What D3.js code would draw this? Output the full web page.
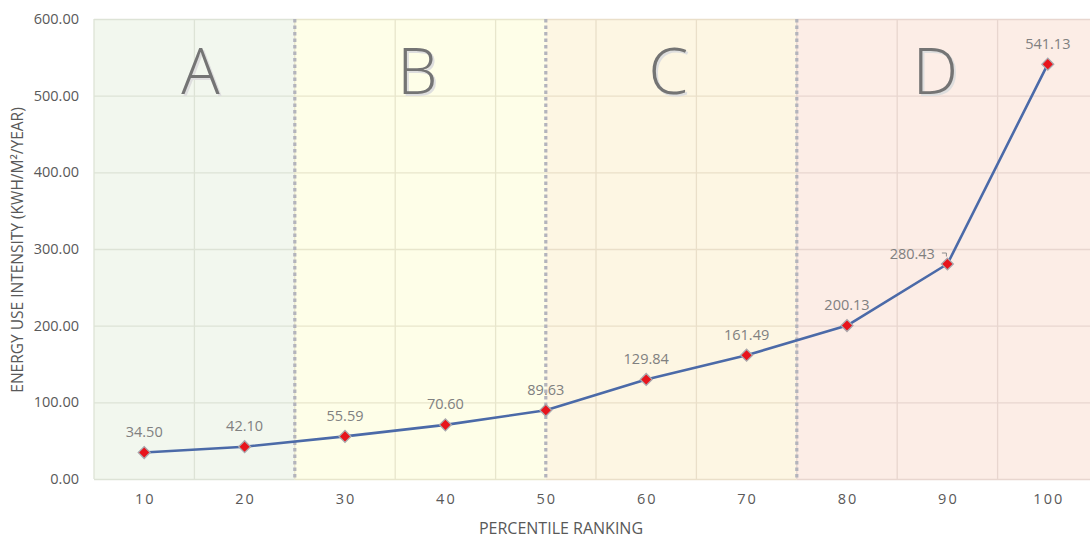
<!DOCTYPE html>
<html>
<head>
<meta charset="utf-8">
<script src="https://cdn.jsdelivr.net/npm/d3@7"></script>
<style>
  html, body { margin: 0; padding: 0; background: #fff; }
  svg { display: block; font-family: "Open Sans", "Noto Sans", sans-serif; }
</style>
</head>
<body>
<svg id="chart" width="1090" height="539"></svg>
<script>
// Percentile ranking (x) and energy use intensity in kWh/m²/year (y)
const percentiles = [10, 20, 30, 40, 50, 60, 70, 80, 90, 100];
const eui = [34.50, 42.10, 55.59, 70.60, 89.63, 129.84, 161.49, 200.13, 280.43, 541.13];
const yTicks = [0, 100, 200, 300, 400, 500, 600];

// Rating bands A–D, bounded on the percentile axis
const zoneLetters = ["A", "B", "C", "D"];
const zoneBounds = [5, 25, 50, 75, 105];

// ---- layout / style (not data) ----
const W = 1090, H = 539;
const plot = { left: 94, right: 1098, top: 19, bottom: 479 };
const zoneFills = ["#f2f7ee", "#fefee8", "#fdf6e3", "#fcede6"];
const zoneGrid = ["#dde3d6", "#e8e6cc", "#eadfc9", "#e8d6cf"];
const zoneLetterAt = [15.6, 37.2, 62.2, 88.8];

const svg = d3.select("#chart");

const x = d3.scaleBand().domain(percentiles).range([plot.left, plot.right]).padding(0);
const xLin = d3.scaleLinear().domain([zoneBounds[0], zoneBounds[zoneBounds.length - 1]])
  .range([plot.left, plot.right]);
const y = d3.scaleLinear().domain([0, 600]).range([plot.bottom, plot.top]);

// Band backgrounds
const zones = zoneLetters.map((l, i) => ({ letter: l, from: zoneBounds[i], to: zoneBounds[i + 1], i }));
svg.append("g").selectAll("rect").data(zones).join("rect")
  .attr("x", d => xLin(d.from))
  .attr("y", plot.top)
  .attr("width", d => xLin(d.to) - xLin(d.from))
  .attr("height", plot.bottom - plot.top)
  .attr("fill", d => zoneFills[d.i]);

// Grid lines, tinted to each band
const gridG = svg.append("g");
zones.forEach(z => {
  const x0 = xLin(z.from), x1 = Math.min(xLin(z.to), W);
  gridG.append("g").selectAll("line").data(yTicks).join("line")
    .attr("x1", x0).attr("x2", x1)
    .attr("y1", d => y(d) + 0.5).attr("y2", d => y(d) + 0.5)
    .attr("stroke", zoneGrid[z.i]).attr("stroke-width", 1.3);
});
const edges = percentiles.map(p => x(p)).concat([x(percentiles[percentiles.length - 1]) + x.bandwidth()]);
gridG.append("g").selectAll("line").data(edges).join("line")
  .attr("x1", d => d).attr("x2", d => d)
  .attr("y1", plot.top).attr("y2", plot.bottom)
  .attr("stroke", d => {
    const p = xLin.invert(d);
    const zi = Math.max(0, d3.bisectRight(zoneBounds, p) - 1);
    return zoneGrid[Math.min(zi, 3)];
  })
  .attr("stroke-width", 1.3);

// Dotted dividers between bands
svg.append("g").selectAll("line").data(zoneBounds.slice(1, -1)).join("line")
  .attr("x1", d => xLin(d)).attr("x2", d => xLin(d))
  .attr("y1", plot.top).attr("y2", plot.bottom)
  .attr("stroke", "#b3b4bc").attr("stroke-width", 3.2)
  .attr("stroke-dasharray", "3.5,3");

// Band letters with a soft shadow
const letterG = svg.append("g")
  .attr("font-family", "'Open Sans', sans-serif")
  .attr("font-weight", 300)
  .attr("font-size", 64).attr("text-anchor", "middle");
letterG.selectAll("text.sh").data(zones).join("text").attr("class", "sh")
  .attr("x", d => xLin(zoneLetterAt[d.i]) + 2).attr("y", 94 + 2)
  .attr("fill", "#dedede").text(d => d.letter);
letterG.selectAll("text.fg").data(zones).join("text").attr("class", "fg")
  .attr("x", d => xLin(zoneLetterAt[d.i])).attr("y", 94)
  .attr("fill", "#747474").text(d => d.letter);

// Y axis
const yAxis = svg.append("g")
  .attr("transform", `translate(${plot.left},0)`)
  .call(d3.axisLeft(y).tickValues(yTicks).tickFormat(d3.format(".2f")).tickSize(0).tickPadding(15));
yAxis.select(".domain").remove();
yAxis.selectAll("text")
  .attr("font-family", "'Open Sans', sans-serif")
  .attr("font-size", 14.5).attr("fill", "#595959");

// X axis
const xAxis = svg.append("g")
  .attr("transform", `translate(0,${plot.bottom})`)
  .call(d3.axisBottom(x).tickSize(0).tickPadding(15));
xAxis.select(".domain").remove();
xAxis.selectAll("text")
  .attr("font-family", "'Open Sans', sans-serif")
  .attr("font-size", 14.5).attr("fill", "#595959")
  .attr("letter-spacing", "2px")
  .attr("dx", "1px");

// Axis titles
svg.append("text")
  .attr("x", 561).attr("y", 534)
  .attr("text-anchor", "middle")
  .attr("font-size", 16).attr("fill", "#595959")
  .text("PERCENTILE RANKING");
svg.append("text")
  .attr("transform", "translate(23,250) rotate(-90)")
  .attr("text-anchor", "middle")
  .attr("font-size", 15.5).attr("fill", "#595959")
  .text("ENERGY USE INTENSITY (KWH/M²/YEAR)");

// Series
const pts = percentiles.map((p, i) => ({ p, v: eui[i] }));
const cx = d => x(d.p) + x.bandwidth() / 2;
const line = d3.line().x(cx).y(d => y(d.v)).curve(d3.curveLinear);
svg.append("path").datum(pts)
  .attr("d", line)
  .attr("fill", "none")
  .attr("stroke", "#4b6aa8")
  .attr("stroke-width", 2.6)
  .attr("stroke-linejoin", "round");

// Diamond markers
svg.append("g").selectAll("path").data(pts).join("path")
  .attr("transform", d => `translate(${cx(d)},${y(d.v)}) rotate(45)`)
  .attr("d", "M-4.2,-4.2H4.2V4.2H-4.2Z")
  .attr("fill", "#e8141c")
  .attr("stroke", "#a9a9ae")
  .attr("stroke-width", 1.3);

// Value labels
const fmt = d3.format(".2f");
const lastIdx = eui.indexOf(280.43);
const labelG = svg.append("g")
  .attr("font-size", 14.5).attr("fill", "#808080");
labelG.selectAll("text").data(pts).join("text")
  .attr("x", (d, i) => i === lastIdx ? cx(d) - 12.5 : cx(d))
  .attr("y", (d, i) => i === lastIdx ? y(d.v) - 5 : y(d.v) - 15.5)
  .attr("text-anchor", (d, i) => i === lastIdx ? "end" : "middle")
  .text(d => fmt(d.v));

// Leader line for the label pulled to the left
const ld = pts[lastIdx];
svg.append("path")
  .attr("d", `M${cx(ld) - 5.5},${y(ld.v) - 11}H${cx(ld) - 1}V${y(ld.v) - 7.5}`)
  .attr("fill", "none").attr("stroke", "#8c8c8c").attr("stroke-width", 1);
</script>
</body>
</html>
